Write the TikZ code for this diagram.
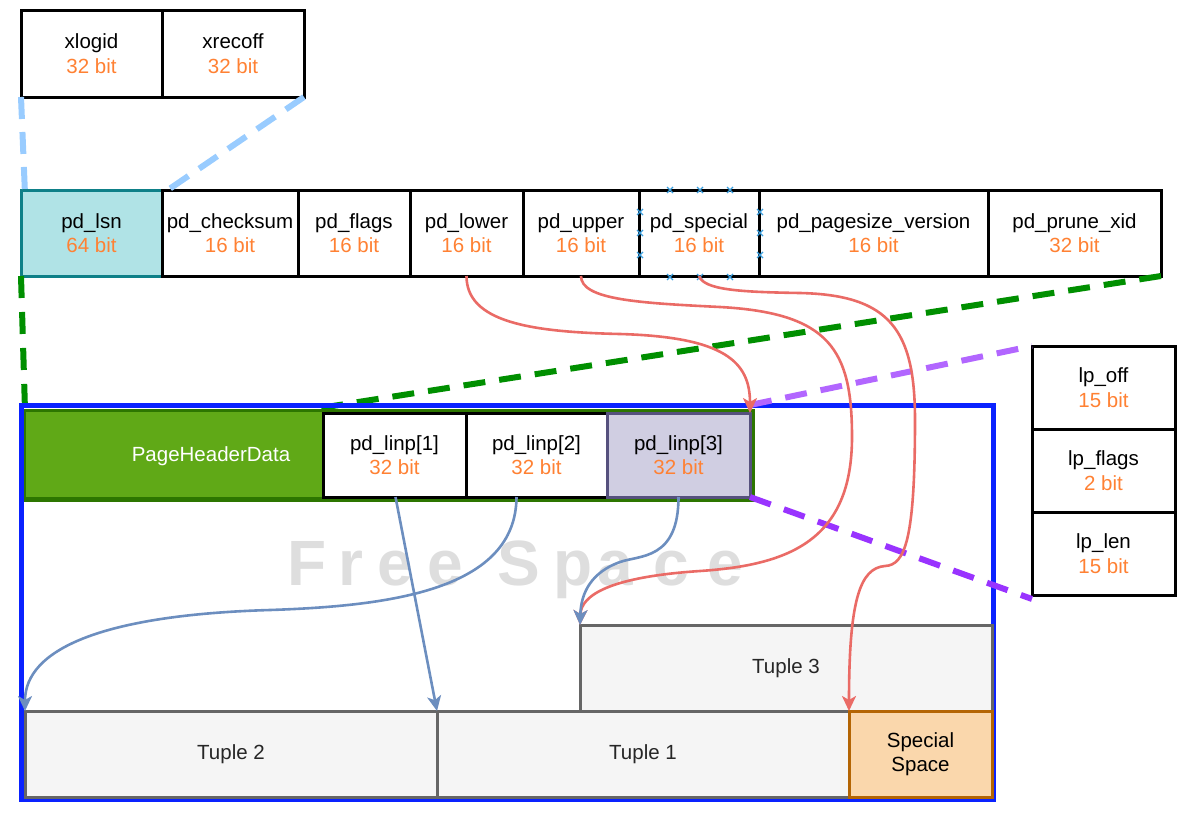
\documentclass[tikz,border=0pt]{standalone}
\usepackage{fontspec}
\setmainfont{Liberation Sans}
\usetikzlibrary{arrows.meta,calc}
\definecolor{bitc}{HTML}{FF8133}
\definecolor{lsnfill}{HTML}{B0E3E6}
\definecolor{lsndraw}{HTML}{0E8088}
\definecolor{hdrfill}{HTML}{60A917}
\definecolor{hdrdraw}{HTML}{2D7600}
\definecolor{linpfill}{HTML}{D0CEE2}
\definecolor{linpdraw}{HTML}{56517E}
\definecolor{tupfill}{HTML}{F5F5F5}
\definecolor{tupdraw}{HTML}{666666}
\definecolor{spfill}{HTML}{FAD7AC}
\definecolor{spdraw}{HTML}{B46504}
\definecolor{pageblue}{HTML}{0A22FF}
\definecolor{ltblue}{HTML}{99CCFF}
\definecolor{dgreen}{HTML}{008F00}
\definecolor{purpA}{HTML}{B266FF}
\definecolor{purpB}{HTML}{9933FF}
\definecolor{redc}{HTML}{EA6B66}
\definecolor{bluec}{HTML}{6C8EBF}
\definecolor{freec}{HTML}{DEDEDE}
\definecolor{markc}{HTML}{3A9FE0}
\newcommand{\lblfont}{\fontsize{20.5}{24.5}\selectfont}
\newcommand{\fld}[2]{#1\\\textcolor{bitc}{#2}}
\begin{document}
\begin{tikzpicture}[x=1pt,y=-1pt,
  fbox/.style={draw=black, line width=3pt, fill=white, inner sep=0pt, outer sep=0pt, align=center, font=\lblfont, text=black},
  tup/.style={fbox, draw=tupdraw, fill=tupfill, text=black!85},
  ltdash/.style={draw=ltblue, line width=6pt, dash pattern=on 22pt off 13pt},
  gdash/.style={draw=dgreen, line width=6pt, dash pattern=on 22pt off 14pt},
  pdash/.style={line width=6pt, dash pattern=on 22pt off 14pt},
  redarr/.style={draw=redc, line width=2.6pt, -{Stealth[length=15pt,width=14pt,inset=4pt]}},
  bluearr/.style={draw=bluec, line width=2.6pt, -{Stealth[length=15pt,width=14pt,inset=4pt]}},
  freel/.style={font=\fontsize{64}{64}\selectfont\bfseries, text=freec, anchor=base west, inner sep=0pt},
  mk/.style={draw=markc, line width=1.3pt}
]
\useasboundingbox (0,0) rectangle (1200,814);

% top boxes
\node[fbox, minimum width=141, minimum height=87] (xlogid) at (91.5,53.5) {\fld{xlogid}{32 bit}};
\node[fbox, minimum width=142, minimum height=87] (xrecoff) at (233,53.5) {\fld{xrecoff}{32 bit}};

% header row
\node[fbox, fill=lsnfill, draw=lsndraw, minimum width=141, minimum height=86] (lsn) at (91.5,233) {\fld{pd\_lsn}{64 bit}};
\node[fbox, minimum width=136, minimum height=86] (cks) at (230,233) {\fld{pd\_checksum}{16 bit}};
\node[fbox, minimum width=112, minimum height=86] (flags) at (354,233) {\fld{pd\_flags}{16 bit}};
\node[fbox, minimum width=113, minimum height=86] (lower) at (466.5,233) {\fld{pd\_lower}{16 bit}};
\node[fbox, minimum width=116, minimum height=86] (upper) at (581,233) {\fld{pd\_upper}{16 bit}};
\node[fbox, minimum width=120, minimum height=86] (special) at (699,233) {\fld{pd\_special}{16 bit}};
\node[fbox, minimum width=229, minimum height=86] (psv) at (873.5,233) {\fld{pd\_pagesize\_version}{16 bit}};
\node[fbox, minimum width=173, minimum height=86] (prune) at (1074.5,233) {\fld{pd\_prune\_xid}{32 bit}};

% selection markers on pd_special
\foreach \px in {670,700,730} {
  \foreach \py in {190,277} {
    \draw[mk] (\px-3,\py-3) -- (\px+3,\py+3) (\px-3,\py+3) -- (\px+3,\py-3);
  }
}
\foreach \py in {212,233,255} {
  \foreach \px in {640,760} {
    \draw[mk] (\px-3,\py-3) -- (\px+3,\py+3) (\px-3,\py+3) -- (\px+3,\py-3);
  }
}

% lp boxes
\node[fbox, minimum width=143, minimum height=83] (lpoff) at (1103.5,387.5) {\fld{lp\_off}{15 bit}};
\node[fbox, minimum width=143, minimum height=83] (lpflags) at (1103.5,470.5) {\fld{lp\_flags}{2 bit}};
\node[fbox, minimum width=143, minimum height=83] (lplen) at (1103.5,553.5) {\fld{lp\_len}{15 bit}};

% page group coordinates
\coordinate (hdrNW) at (25,410);

% blue light dashed zoom lines
\draw[ltdash] (xlogid.south west) -- ([xshift=4pt,yshift=-4pt]lsn.north west);
\draw[ltdash] (xrecoff.south east) -- ([yshift=-4pt]lsn.north east);

% green dashed
\draw[gdash] (lsn.south west) -- (hdrNW);
\draw[gdash] (prune.south east) -- (320,408);

% page frame
\node[draw=pageblue, line width=5pt, inner sep=0pt, outer sep=0pt, minimum width=972, minimum height=394] (page) at (507,602) {};

% Free Space watermark
\node[freel] (f1) at (287,585) {F};
\node[freel] (f2) at (338,585) {r};
\node[freel] (f3) at (377,585) {e};
\node[freel] (f4) at (427,585) {e};
\node[freel] (f5) at (497,585) {S};
\node[freel] (f6) at (553,585) {p};
\node[freel] (f7) at (597,585) {a};
\node[freel] (f8) at (653,585) {c};
\node[freel] (f9) at (707,585) {e};

% header group
\node[draw=hdrdraw, line width=3pt, inner sep=0pt, outer sep=0pt, minimum width=728, minimum height=90] (hdrgrp) at (389,455) {};
\node[draw=hdrdraw, fill=hdrfill, line width=2pt, inner sep=0pt, outer sep=0pt, minimum width=298, minimum height=87] (phd) at (174,454.5) {};
\node[font=\lblfont, text=white, inner sep=0pt] (phdtxt) at (211,456) {PageHeaderData};
\node[fbox, minimum width=143, minimum height=84] (l1) at (394.5,455) {\fld{pd\_linp[1]}{32 bit}};
\node[fbox, minimum width=141, minimum height=84] (l2) at (536.5,455) {\fld{pd\_linp[2]}{32 bit}};
\node[fbox, fill=linpfill, draw=linpdraw, minimum width=143, minimum height=84] (l3) at (678.5,455) {\fld{pd\_linp[3]}{32 bit}};

% purple dashed
\draw[pdash, draw=purpA] ([yshift=8pt]l3.north east) -- (lpoff.north west);
\draw[pdash, draw=purpB] (l3.south east) -- ([yshift=-4pt]lplen.south west);

% tuples
\node[tup, minimum width=412, minimum height=86] (t3) at (786,668) {Tuple 3};
\node[tup, minimum width=412, minimum height=86] (t2) at (231,754) {Tuple 2};
\node[tup, minimum width=412, minimum height=86] (t1) at (643,754) {Tuple 1};
\node[fbox, fill=spfill, draw=spdraw, minimum width=143, minimum height=86] (sp) at (920.5,754) {Special\\Space};

% red connectors
\draw[redarr] (lower.south) .. controls (466.5,322) and (530,332) .. (620,334)
  .. controls (725,337) and (750,362) .. (l3.north east);
\draw[redarr] (upper.south) .. controls (581,300) and (640,303) .. (720,307)
  .. controls (830,313) and (852,350) .. (852,437)
  .. controls (852,540) and (790,565) .. (700,571)
  .. controls (610,577) and (581,595) .. (t3.north west);
\draw[redarr] (special.south) .. controls (704,290) and (740,292) .. (800,293)
  .. controls (890,295) and (915,330) .. (915,420)
  .. controls (915,540) and (905,565) .. (885,566)
  .. controls (860,568) and (849,600) .. (sp.north west);

% blue connectors
\draw[bluearr] ([xshift=1pt]l1.south) -- (t1.north west);
\draw[bluearr] ([xshift=-20pt]l2.south) .. controls (516,590) and (390,606) .. (270,610)
  .. controls (100,615) and (25,650) .. (t2.north west);
\draw[bluearr] (l3.south) .. controls (678.5,560) and (640,555) .. (620,562)
  .. controls (592,572) and (581,592) .. (t3.north west);
\end{tikzpicture}
\end{document}
